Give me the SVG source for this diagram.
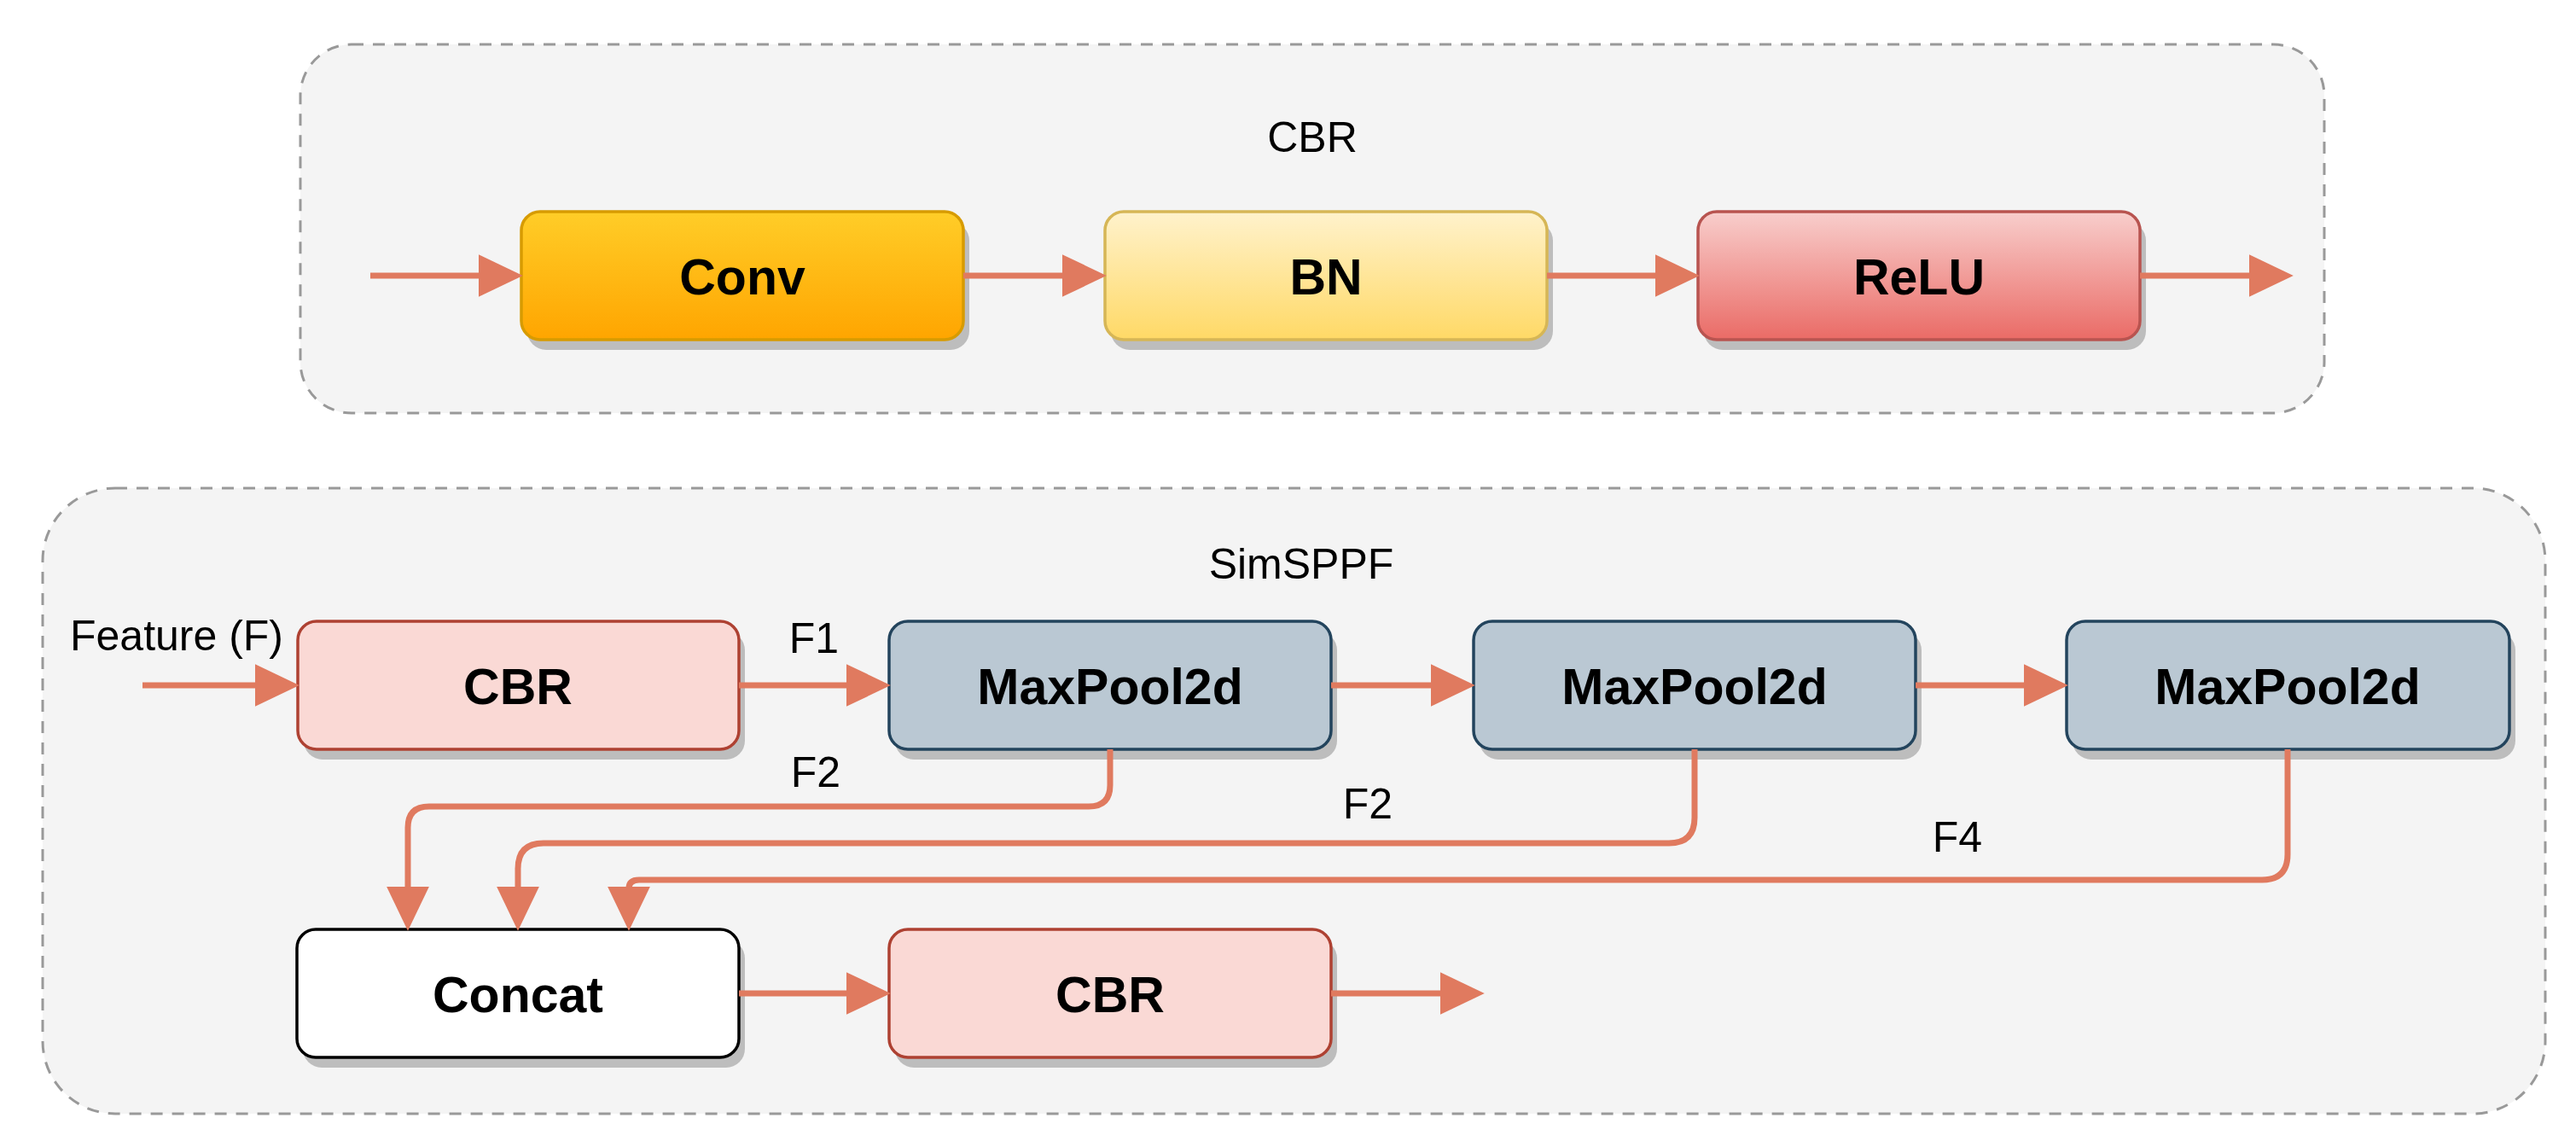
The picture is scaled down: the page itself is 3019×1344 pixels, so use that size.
<svg xmlns="http://www.w3.org/2000/svg" width="3019" height="1344" viewBox="0 0 3019 1344">
<defs>
<style>
.container{fill:#f4f4f4;stroke:#999999;stroke-width:3;stroke-dasharray:14 11}
.shadow{fill:#bdbdbd}
.box{stroke-width:3.5}
.lbl{font-family:"Liberation Sans",Arial,sans-serif;font-size:50px;fill:#000;text-anchor:middle}
.blbl{font-family:"Liberation Sans",Arial,sans-serif;font-size:59px;font-weight:bold;fill:#000;text-anchor:middle}
.edge{fill:none;stroke:#e07a5f;stroke-width:7;marker-end:url(#arr)}
</style>
<linearGradient id="gConv" x1="0" y1="0" x2="0" y2="1"><stop offset="0" stop-color="#ffcd28"/><stop offset="1" stop-color="#ffa500"/></linearGradient>
<linearGradient id="gBN" x1="0" y1="0" x2="0" y2="1"><stop offset="0" stop-color="#fff2cc"/><stop offset="1" stop-color="#ffd966"/></linearGradient>
<linearGradient id="gReLU" x1="0" y1="0" x2="0" y2="1"><stop offset="0" stop-color="#f8cecc"/><stop offset="1" stop-color="#ea6b66"/></linearGradient>
<marker id="arr" markerUnits="userSpaceOnUse" markerWidth="52" markerHeight="50" viewBox="0 0 50 48" refX="5" refY="24" orient="auto">
<path d="M0,0 L50,24 L0,48 Z" fill="#e07a5f"/>
</marker>
</defs>
<rect width="3019" height="1344" fill="#ffffff"/>

<g id="cbr-container">
<rect class="container" x="352" y="52" width="2372" height="432" rx="60" ry="60"/>
<text class="lbl" x="1538" y="178">CBR</text>
</g>

<g id="simsppf-container">
<rect class="container" x="50" y="572" width="2933" height="733" rx="85" ry="85"/>
<text class="lbl" x="1525" y="678">SimSPPF</text>
</g>

<g id="conv">
<rect class="shadow" x="618" y="260" width="518" height="150" rx="22"/>
<rect class="box" x="611" y="248" width="518" height="150" rx="22" fill="url(#gConv)" stroke="#d79b00"/>
<text class="blbl" x="870" y="345">Conv</text>
</g>
<g id="bn">
<rect class="shadow" x="1302" y="260" width="518" height="150" rx="22"/>
<rect class="box" x="1295" y="248" width="518" height="150" rx="22" fill="url(#gBN)" stroke="#d6b656"/>
<text class="blbl" x="1554" y="345">BN</text>
</g>
<g id="relu">
<rect class="shadow" x="1997" y="260" width="518" height="150" rx="22"/>
<rect class="box" x="1990" y="248" width="518" height="150" rx="22" fill="url(#gReLU)" stroke="#b85450"/>
<text class="blbl" x="2249" y="345">ReLU</text>
</g>

<g id="cbr1">
<rect class="shadow" x="356" y="740" width="517" height="150" rx="22"/>
<rect class="box" x="349" y="728" width="517" height="150" rx="22" fill="#fad9d5" stroke="#ae4132"/>
<text class="blbl" x="607" y="825">CBR</text>
</g>
<g id="maxpool1">
<rect class="shadow" x="1049" y="740" width="518" height="150" rx="22"/>
<rect class="box" x="1042" y="728" width="518" height="150" rx="22" fill="#bac8d3" stroke="#23445d"/>
<text class="blbl" x="1301" y="825">MaxPool2d</text>
</g>
<g id="maxpool2">
<rect class="shadow" x="1734" y="740" width="518" height="150" rx="22"/>
<rect class="box" x="1727" y="728" width="518" height="150" rx="22" fill="#bac8d3" stroke="#23445d"/>
<text class="blbl" x="1986" y="825">MaxPool2d</text>
</g>
<g id="maxpool3">
<rect class="shadow" x="2429" y="740" width="519" height="150" rx="22"/>
<rect class="box" x="2422" y="728" width="519" height="150" rx="22" fill="#bac8d3" stroke="#23445d"/>
<text class="blbl" x="2681" y="825">MaxPool2d</text>
</g>
<g id="concat">
<rect class="shadow" x="355" y="1101" width="518" height="150" rx="22"/>
<rect class="box" x="348" y="1089" width="518" height="150" rx="22" fill="#ffffff" stroke="#000000"/>
<text class="blbl" x="607" y="1186">Concat</text>
</g>
<g id="cbr2">
<rect class="shadow" x="1049" y="1101" width="518" height="150" rx="22"/>
<rect class="box" x="1042" y="1089" width="518" height="150" rx="22" fill="#fad9d5" stroke="#ae4132"/>
<text class="blbl" x="1301" y="1186">CBR</text>
</g>

<g id="connectors">
<path class="edge" d="M434,323 H566"/>
<path class="edge" d="M1129,323 H1250"/>
<path class="edge" d="M1813,323 H1945"/>
<path class="edge" d="M2508,323 H2641"/>
<path class="edge" d="M167,803 H304"/>
<path class="edge" d="M866,803 H997"/>
<path class="edge" d="M1560,803 H1682"/>
<path class="edge" d="M2245,803 H2377"/>
<path class="edge" d="M866,1164 H997"/>
<path class="edge" d="M1560,1164 H1693"/>
<path class="edge" d="M1301,878 V920 Q1301,945 1276,945 H503 Q478,945 478,970 V1044"/>
<path class="edge" d="M1986,878 V958 Q1986,988 1956,988 H637 Q607,988 607,1018 V1044"/>
<path class="edge" d="M2681,878 V1001 Q2681,1031 2651,1031 H749 Q737,1031 737,1041 V1044"/>
<text class="lbl" x="207" y="762">Feature (F)</text>
<text class="lbl" x="954" y="765">F1</text>
<text class="lbl" x="956" y="922">F2</text>
<text class="lbl" x="1603" y="959">F2</text>
<text class="lbl" x="2294" y="998">F4</text>
</g>
</svg>
